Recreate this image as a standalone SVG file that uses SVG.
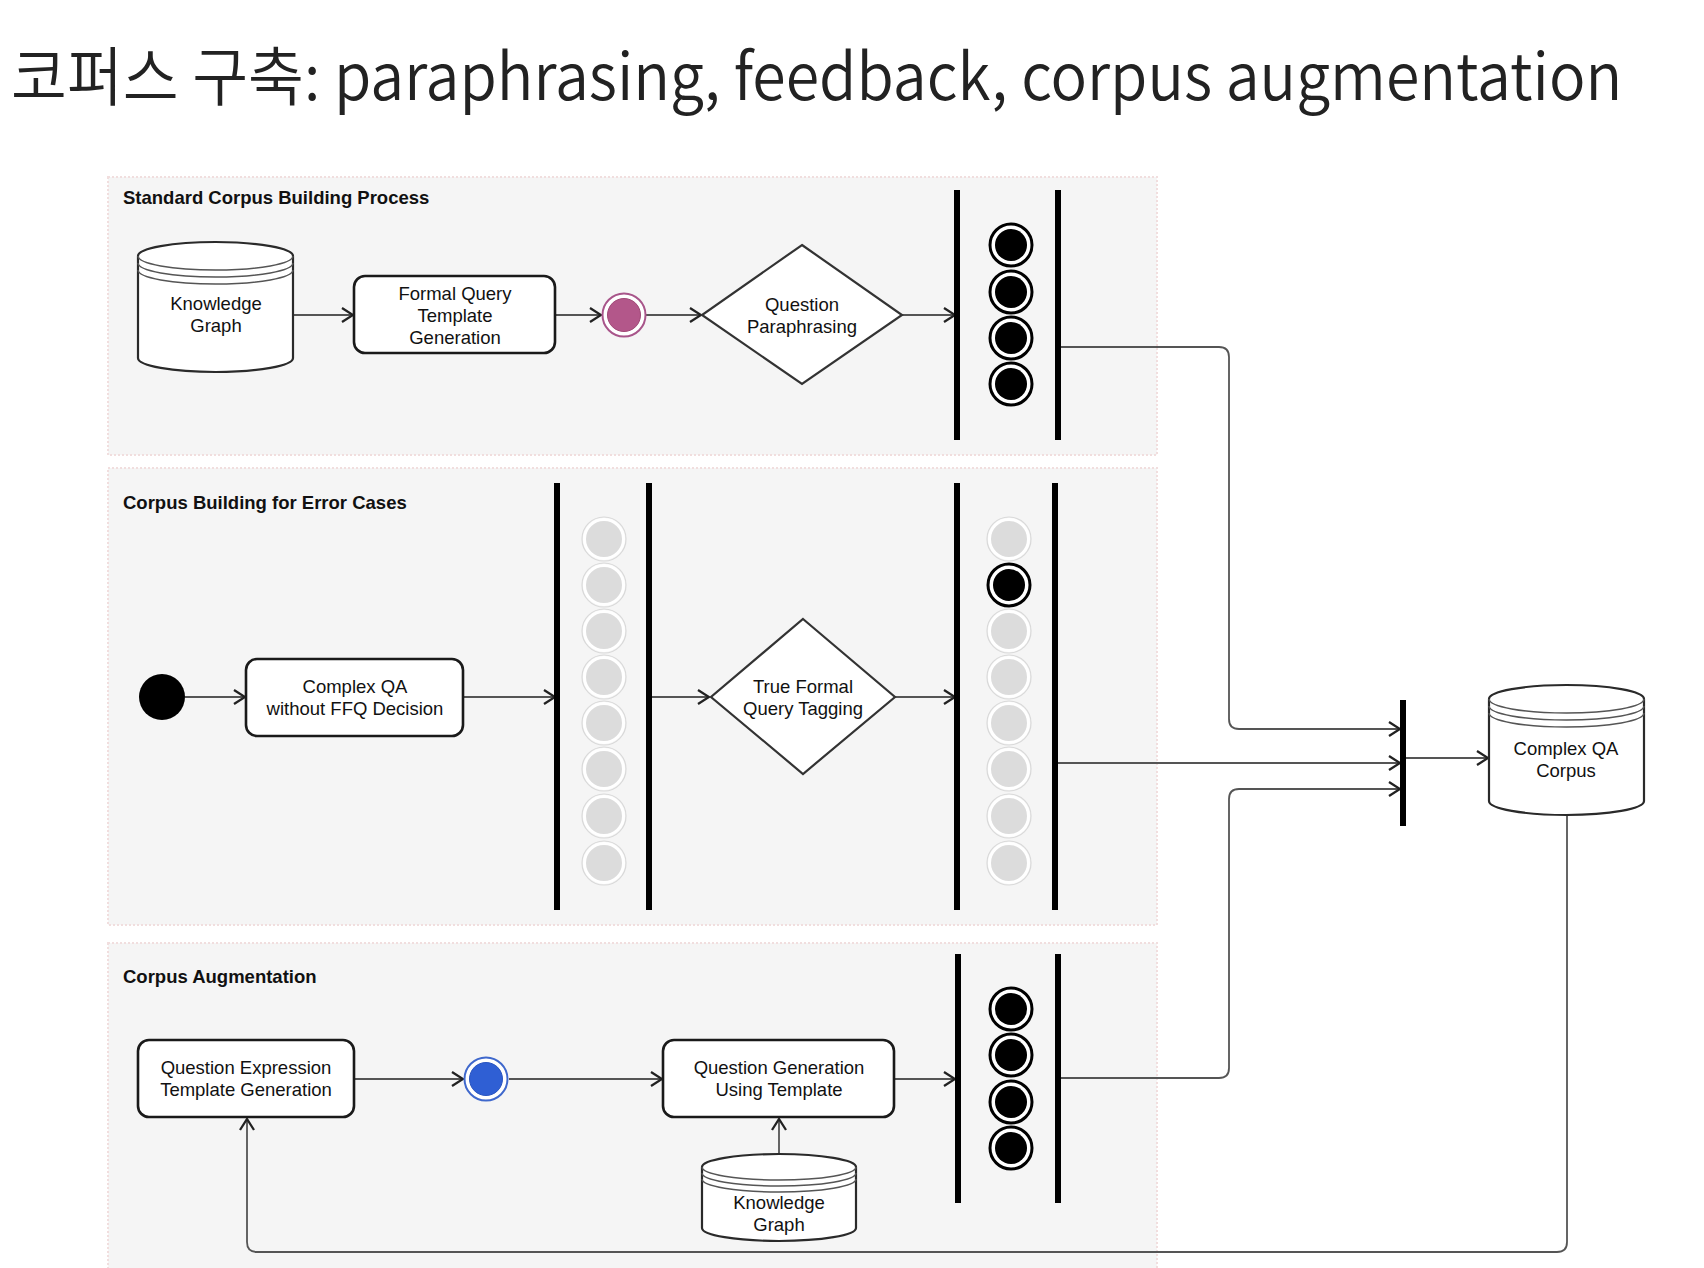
<svg xmlns="http://www.w3.org/2000/svg" width="1704" height="1268" viewBox="0 0 1704 1268">
<defs>
<marker id="arr" markerUnits="userSpaceOnUse" markerWidth="15" markerHeight="17" refX="13" refY="8.5" orient="auto">
<path d="M2,1.5 L13,8.5 L2,15.5" fill="none" stroke="#222" stroke-width="2.3" stroke-linejoin="miter"/>
</marker>
<g id="dbl">
<circle r="21" fill="#fff" stroke="#000" stroke-width="3"/>
<circle r="16" fill="#000"/>
</g>
<g id="gry">
<circle r="22" fill="none" stroke="#d9d9d9" stroke-width="1.2"/>
<circle r="19.5" fill="#dcdcdc" stroke="#fff" stroke-width="3"/>
</g>
</defs>
<style>
.lane{fill:#f5f5f5;stroke:#f1dede;stroke-width:2;stroke-dasharray:2 2}
.lt{font-family:"Liberation Sans",Arial,sans-serif;font-weight:bold;font-size:18.5px;fill:#111}
.t{font-family:"Liberation Sans",Arial,sans-serif;font-size:18.5px;fill:#111;text-anchor:middle}
.box{fill:#fff;stroke:#1a1a1a;stroke-width:2.6}
.dia{fill:#fff;stroke:#333;stroke-width:2.2}
.cyl{fill:#fff;stroke:#2a2a2a;stroke-width:2.2}
.cl{fill:none;stroke:#555;stroke-width:1.5}
.bar{fill:#000}
.c{fill:none;stroke:#555;stroke-width:1.8;marker-end:url(#arr)}
</style>
<rect width="1704" height="1268" fill="#fff"/>
<text transform="translate(11,100) scale(0.87,1)" x="0" y="0" font-family="'Noto Sans CJK KR','Noto Sans',sans-serif" font-weight="350" font-size="64" fill="#222" textLength="1852" lengthAdjust="spacingAndGlyphs">코퍼스 구축: paraphrasing, feedback, corpus augmentation</text>

<g id="lane1"><rect class="lane" x="108" y="177" width="1049" height="278"/><text class="lt" x="123" y="204">Standard Corpus Building Process</text></g>
<g id="lane2"><rect class="lane" x="108" y="468" width="1049" height="457"/><text class="lt" x="123" y="509">Corpus Building for Error Cases</text></g>
<g id="lane3"><rect class="lane" x="108" y="943" width="1049" height="330"/><text class="lt" x="123" y="983">Corpus Augmentation</text></g>

<g id="connectors">
<path class="c" d="M293,315 H353"/>
<path class="c" d="M556,315 H601"/>
<path class="c" d="M646,315 H701"/>
<path class="c" d="M902,315 H955"/>
<path class="c" d="M1060,347 H1219 Q1229,347 1229,357 V719 Q1229,729 1239,729 H1400"/>
<path class="c" d="M185,697 H245"/>
<path class="c" d="M464,697 H555"/>
<path class="c" d="M652,697 H709"/>
<path class="c" d="M895,697 H955"/>
<path class="c" d="M1058,763 H1400"/>
<path class="c" d="M355,1079 H463"/>
<path class="c" d="M509,1079 H662"/>
<path class="c" d="M779,1160 V1119"/>
<path class="c" d="M894,1079 H955"/>
<path class="c" d="M1060,1078 H1219 Q1229,1078 1229,1068 V799 Q1229,789 1239,789 H1400"/>
<path class="c" d="M1405,758 H1488"/>
<path class="c" d="M1567,815 V1242 Q1567,1252 1557,1252 H257 Q247,1252 247,1242 V1119"/>
</g>

<g id="kg1">
<path class="cyl" d="M138,256 A77.5,14 0 0 1 293,256 V358 A77.5,14 0 0 1 138,358 Z"/>
<path class="cl" d="M138,256 A77.5,14 0 0 0 293,256 M138,263 A77.5,14 0 0 0 293,263 M138,270 A77.5,14 0 0 0 293,270"/>
<text class="t" x="216" y="310">Knowledge</text><text class="t" x="216" y="332">Graph</text>
</g>
<g id="fqtg">
<rect class="box" x="354" y="276" width="201" height="77" rx="11"/>
<text class="t" x="455" y="300">Formal Query</text><text class="t" x="455" y="322">Template</text><text class="t" x="455" y="344">Generation</text>
</g>
<g id="pink">
<circle cx="624" cy="315" r="21.5" fill="#fff" stroke="#a8558a" stroke-width="2"/>
<circle cx="624" cy="315" r="16.5" fill="#b3578a" stroke="#a04876" stroke-width="1"/>
</g>
<g id="qp">
<polygon class="dia" points="802,245 902,315 802,384 702,315"/>
<text class="t" x="802" y="311">Question</text><text class="t" x="802" y="333">Paraphrasing</text>
</g>
<g id="fork1">
<rect class="bar" x="954" y="190" width="6" height="250"/>
<rect class="bar" x="1055" y="190" width="6" height="250"/>
<use href="#dbl" x="1011" y="245"/><use href="#dbl" x="1011" y="292"/><use href="#dbl" x="1011" y="338"/><use href="#dbl" x="1011" y="384"/>
</g>

<g id="start">
<circle cx="162" cy="697" r="23" fill="#000"/>
</g>
<g id="cqa">
<rect class="box" x="246" y="659" width="217" height="77" rx="11"/>
<text class="t" x="355" y="693">Complex QA</text><text class="t" x="355" y="715">without FFQ Decision</text>
</g>
<g id="fork2">
<rect class="bar" x="554" y="483" width="6" height="427"/>
<rect class="bar" x="646" y="483" width="6" height="427"/>
<use href="#gry" x="604" y="539"/><use href="#gry" x="604" y="585"/><use href="#gry" x="604" y="631"/><use href="#gry" x="604" y="677"/><use href="#gry" x="604" y="723"/><use href="#gry" x="604" y="769"/><use href="#gry" x="604" y="816"/><use href="#gry" x="604" y="863"/>
</g>
<g id="tfqt">
<polygon class="dia" points="803,619 895,697 803,774 711,697"/>
<text class="t" x="803" y="693">True Formal</text><text class="t" x="803" y="715">Query Tagging</text>
</g>
<g id="fork3">
<rect class="bar" x="954" y="483" width="6" height="427"/>
<rect class="bar" x="1052" y="483" width="6" height="427"/>
<use href="#gry" x="1009" y="539"/><use href="#dbl" x="1009" y="585"/><use href="#gry" x="1009" y="631"/><use href="#gry" x="1009" y="677"/><use href="#gry" x="1009" y="723"/><use href="#gry" x="1009" y="769"/><use href="#gry" x="1009" y="816"/><use href="#gry" x="1009" y="863"/>
</g>

<g id="qetg">
<rect class="box" x="138" y="1040" width="216" height="77" rx="11"/>
<text class="t" x="246" y="1074">Question Expression</text><text class="t" x="246" y="1096">Template Generation</text>
</g>
<g id="blue">
<circle cx="486" cy="1079" r="21.5" fill="#fff" stroke="#3f68cc" stroke-width="2"/>
<circle cx="486" cy="1079" r="16.5" fill="#2f5fd4" stroke="#2a55c0" stroke-width="1"/>
</g>
<g id="qgut">
<rect class="box" x="663" y="1040" width="231" height="77" rx="11"/>
<text class="t" x="779" y="1074">Question Generation</text><text class="t" x="779" y="1096">Using Template</text>
</g>
<g id="kg2">
<path class="cyl" d="M702,1167 A77,13 0 0 1 856,1167 V1228 A77,13 0 0 1 702,1228 Z"/>
<path class="cl" d="M702,1167 A77,13 0 0 0 856,1167 M702,1173 A77,13 0 0 0 856,1173 M702,1179 A77,13 0 0 0 856,1179"/>
<text class="t" x="779" y="1209">Knowledge</text><text class="t" x="779" y="1231">Graph</text>
</g>
<g id="fork4">
<rect class="bar" x="955" y="954" width="6" height="249"/>
<rect class="bar" x="1055" y="954" width="6" height="249"/>
<use href="#dbl" x="1011" y="1009"/><use href="#dbl" x="1011" y="1055"/><use href="#dbl" x="1011" y="1102"/><use href="#dbl" x="1011" y="1148"/>
</g>

<g id="join">
<rect class="bar" x="1400" y="700" width="6" height="126"/>
</g>
<g id="cqac">
<path class="cyl" d="M1489,699 A77.5,14 0 0 1 1644,699 V801 A77.5,14 0 0 1 1489,801 Z"/>
<path class="cl" d="M1489,699 A77.5,14 0 0 0 1644,699 M1489,706 A77.5,14 0 0 0 1644,706 M1489,713 A77.5,14 0 0 0 1644,713"/>
<text class="t" x="1566" y="755">Complex QA</text><text class="t" x="1566" y="777">Corpus</text>
</g>
</svg>
